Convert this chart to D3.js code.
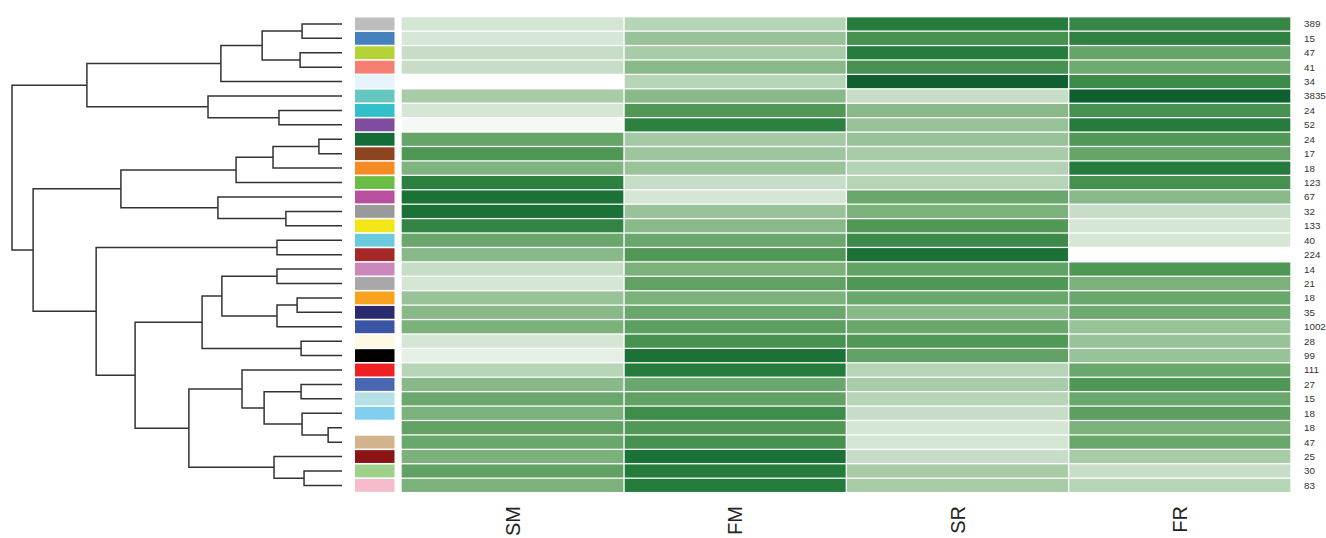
<!DOCTYPE html>
<html>
<head>
<meta charset="utf-8">
<script src="https://cdn.jsdelivr.net/npm/d3@7"></script>
<style>
  html, body { margin: 0; padding: 0; background: #ffffff; }
  svg { display: block; font-family: "Liberation Sans", Arial, sans-serif; }
</style>
</head>
<body>
<svg id="chart" width="1326" height="538"></svg>
<script>
// ---------------- data ----------------
const columns = ["SM", "FM", "SR", "FR"];
const rowLabels = ["389","15","47","41","34","3835","24","52","24","17","18","123","67","32","133","40","224","14","21","18","35","1002","28","99","111","27","15","18","18","47","25","30","83"];
const groupColors = ["#bdbdbd","#4581bc","#b5d334","#f47f72","#e6f3f9","#66c6c0","#33bfc9","#7f4c9f","#136b36","#8b4520","#f58b22","#6bbd45","#b84f9f","#9a9a9a","#f2e619","#6bcbde","#a52828","#cc88bc","#a8a8a8","#f9a21e","#2a2a6e","#3a55a6","#fdf9e3","#000000","#ee2024","#4a68b2","#b5e1e6","#81ceee","#ffffff","#d2b48c","#8b1414","#9ed28a","#f7bccb"];
const valuesSM = [0.18,0.16,0.23,0.23,0.00,0.36,0.17,0.04,0.60,0.70,0.49,0.86,0.93,0.93,0.83,0.58,0.46,0.23,0.17,0.41,0.46,0.50,0.17,0.10,0.30,0.46,0.58,0.50,0.62,0.58,0.50,0.62,0.50];
const valuesFM = [0.30,0.41,0.36,0.46,0.30,0.46,0.69,0.85,0.37,0.39,0.41,0.23,0.17,0.41,0.46,0.58,0.69,0.50,0.62,0.50,0.58,0.64,0.74,0.93,0.89,0.58,0.62,0.77,0.69,0.74,0.93,0.89,0.89];
const valuesSR = [0.88,0.74,0.88,0.74,1.00,0.23,0.46,0.41,0.41,0.36,0.31,0.30,0.58,0.50,0.69,0.78,0.93,0.62,0.70,0.58,0.46,0.58,0.69,0.62,0.30,0.36,0.30,0.23,0.17,0.17,0.23,0.36,0.36];
const valuesFR = [0.81,0.84,0.60,0.56,0.78,1.00,0.74,0.89,0.69,0.60,0.89,0.74,0.46,0.23,0.17,0.17,0.00,0.70,0.50,0.58,0.56,0.41,0.41,0.41,0.58,0.70,0.58,0.64,0.50,0.58,0.36,0.23,0.30];
// hclust-style merges: negative = leaf (1-based), positive = earlier merge step (1-based); third = height
const merges = [
  [-1,-2,1.21],[-3,-4,1.27],[1,2,2.42],[3,-5,3.67],[-7,-8,1.91],[-6,5,4.06],[4,6,7.73],
  [-9,-10,0.70],[8,-11,2.09],[9,-12,3.21],[-14,-15,1.70],[-13,11,3.76],[10,12,6.70],
  [-16,-17,1.97],[-18,-19,1.97],[-20,-21,1.36],[16,-22,1.97],[15,17,3.64],[-23,-24,1.24],[18,19,4.24],
  [-26,-27,1.24],[-29,-30,0.42],[-28,22,1.21],[21,23,2.36],[-25,24,3.03],[-32,-33,1.15],[-31,26,2.06],
  [25,27,4.64],[20,28,6.27],[14,29,7.45],[13,30,9.36],[7,31,10.0]
];

// ---------------- layout ----------------
const svg = d3.select("#chart");
const n = rowLabels.length;
const seriesByCol = { SM: valuesSM, FM: valuesFM, SR: valuesSR, FR: valuesFR };

const y = d3.scaleBand().domain(d3.range(n)).range([16.7, 492.6]).padding(0);
const xCol = d3.scaleBand().domain(columns).range([401.7, 1291]).padding(0);
const xTree = d3.scaleLinear().domain([0, 10]).range([342, 12]);
const color = d3.scaleLinear()
  .domain([0, 0.17, 0.36, 0.5, 0.7, 0.89, 1])
  .range(["#ffffff", "#d5e6d5", "#a8cba8", "#7cb17c", "#4f9754", "#247b3b", "#0f6030"])
  .interpolate(d3.interpolateRgb);

const bw = y.bandwidth();
const gap = 1.3;

// heatmap cells
const cells = [];
columns.forEach(c => seriesByCol[c].forEach((v, i) => cells.push({ col: c, row: i, v })));
svg.append("g").selectAll("rect").data(cells).join("rect")
  .attr("x", d => xCol(d.col) + (d.col === columns[0] ? 0 : 0.7))
  .attr("y", d => y(d.row) + gap / 2)
  .attr("width", d => xCol.bandwidth() - (d.col === columns[0] ? 0.7 : 1.4))
  .attr("height", bw - gap)
  .attr("fill", d => color(d.v));

// colour swatches
svg.append("g").selectAll("rect").data(groupColors).join("rect")
  .attr("x", 355)
  .attr("y", (d, i) => y(i) + 0.8)
  .attr("width", 39.5)
  .attr("height", bw - 1.6)
  .attr("fill", d => d);

// row labels
svg.append("g").selectAll("text").data(rowLabels).join("text")
  .attr("x", 1304)
  .attr("y", (d, i) => y(i) + bw / 2)
  .attr("dy", "0.35em")
  .attr("font-size", 9.8)
  .attr("fill", "#333")
  .text(d => d);

// column labels (rotated)
svg.append("g").selectAll("text").data(columns).join("text")
  .attr("transform", d => `translate(${xCol(d) + xCol.bandwidth() / 2},506) rotate(-90)`)
  .attr("text-anchor", "end")
  .attr("dy", "0.36em")
  .attr("font-size", 20)
  .attr("fill", "#222")
  .text(d => d);

// dendrogram
const nodes = [];
function leafNode(k) { return { x: xTree(0), y: y(k - 1) + bw / 2 }; }
merges.forEach(([a, b, h]) => {
  const ca = a < 0 ? leafNode(-a) : nodes[a - 1];
  const cb = b < 0 ? leafNode(-b) : nodes[b - 1];
  nodes.push({ x: xTree(h), y: (ca.y + cb.y) / 2, a: ca, b: cb });
});
svg.append("g").selectAll("path").data(nodes).join("path")
  .attr("d", d => `M${d.a.x},${d.a.y}H${d.x}V${d.b.y}H${d.b.x}`)
  .attr("fill", "none")
  .attr("stroke", "#333")
  .attr("stroke-width", 1.5);
</script>
</body>
</html>
